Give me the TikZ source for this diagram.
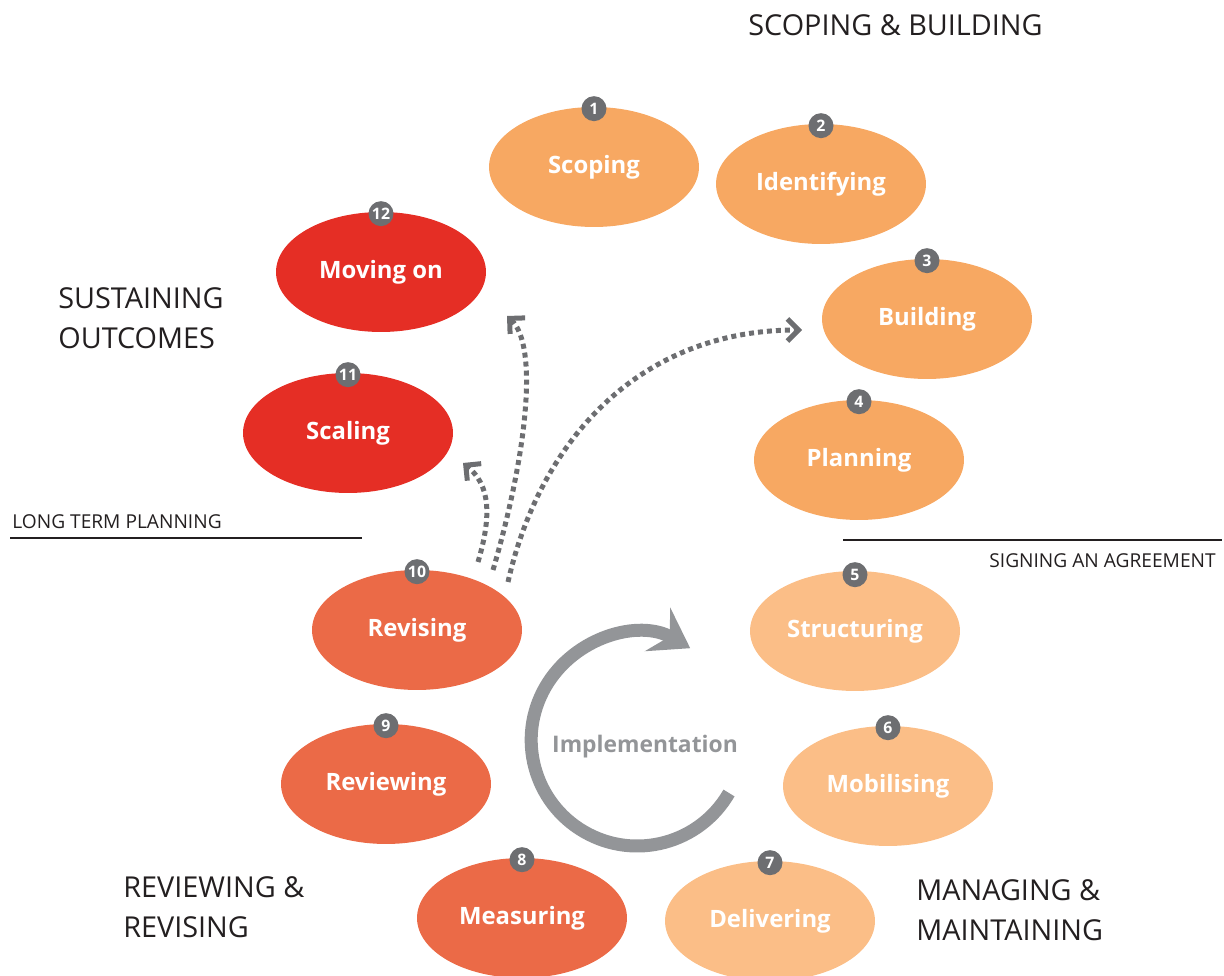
\documentclass[tikz,border=0pt]{standalone}
\usepackage{fontspec}
\setmainfont{Open Sans}
\usetikzlibrary{shapes.geometric, arrows.meta, positioning}
\definecolor{scopeorange}{HTML}{F7A862}
\definecolor{manageorange}{HTML}{FBBE87}
\definecolor{reviewred}{HTML}{EB6A47}
\definecolor{sustainred}{HTML}{E52E25}
\definecolor{badgegrey}{HTML}{6D6E71}
\definecolor{loopgrey}{HTML}{939598}
\definecolor{inkgrey}{HTML}{231F20}
\tikzset{
	x=0.02cm, y=-0.02cm,
	stage/.style={ellipse, minimum width=4.2cm, minimum height=2.4cm, inner sep=0pt,
		text=white, font=\fontsize{13.6}{16}\selectfont\bfseries},
	badge/.style={circle, fill=badgegrey, text=white, minimum size=0.5cm, inner sep=0pt,
		font=\fontsize{9}{10}\selectfont\bfseries},
	phase/.style={align=left, anchor=north west, inner sep=0pt, text=inkgrey,
		font=\fontsize{16.4}{22.7}\selectfont},
	milestone/.style={inner sep=0pt, text=inkgrey, font=\fontsize{10.9}{12}\selectfont},
	jump/.style={draw=badgegrey, line width=0.1cm, dash pattern=on 0.1cm off 0.08cm,
		-{Straight Barb[length=0.22cm, width=0.44cm]}},
	cycle/.style={draw=loopgrey, line width=0.26cm,
		-{Stealth[length=0.75cm, width=1cm, inset=0.28cm]}}
}

\begin{document}
\begin{tikzpicture}
	\useasboundingbox (0,0) rectangle (1224,976);
	
	% stages
	\node[stage, fill=scopeorange] (s1) at (594,167) {Scoping};
	\node[stage, fill=scopeorange] (s2) at (821,184) {Identifying};
	\node[stage, fill=scopeorange] (s3) at (927,319) {Building};
	\node[stage, fill=scopeorange] (s4) at (859,460) {Planning};
	\node[stage, fill=manageorange] (s5) at (855,631) {Structuring};
	\node[stage, fill=manageorange] (s6) at (888,786) {Mobilising};
	\node[stage, fill=manageorange] (s7) at (770,921) {Delivering};
	\node[stage, fill=reviewred] (s8) at (522,918) {Measuring};
	\node[stage, fill=reviewred] (s9) at (386,784) {Reviewing};
	\node[stage, fill=reviewred] (s10) at (417,630) {Revising};
	\node[stage, fill=sustainred] (s11) at (348,433) {Scaling};
	\node[stage, fill=sustainred] (s12) at (381,272) {Moving on};
	
	% numbers
	\node[badge] (n1) at ([yshift=-0.04cm]s1.north) {1};
	\node[badge] (n2) at ([yshift=-0.04cm]s2.north) {2};
	\node[badge] (n3) at ([yshift=-0.04cm]s3.north) {3};
	\node[badge] (n4) at ([yshift=-0.04cm]s4.north) {4};
	\node[badge] (n5) at ([yshift=-0.08cm]s5.north) {5};
	\node[badge] (n6) at ([yshift=-0.04cm]s6.north) {6};
	\node[badge] (n7) at ([yshift=-0.04cm]s7.north) {7};
	\node[badge] (n8) at ([yshift=-0.04cm]s8.north) {8};
	\node[badge] (n9) at ([yshift=-0.04cm]s9.north) {9};
	\node[badge] (n10) at ([yshift=-0.04cm]s10.north) {10};
	\node[badge] (n11) at ([yshift=-0.04cm]s11.north) {11};
	\node[badge] (n12) at ([yshift=-0.04cm]s12.north) {12};
	
	% phases
	\node[phase] (scopebuild) at (748,14) {SCOPING \& BUILDING};
	\node[phase] (sustain) at (58,287) {SUSTAINING\\OUTCOMES};
	\node[phase] (reviewrevise) at (123,876) {REVIEWING \&\\REVISING};
	\node[phase] (managemaintain) at (916,879) {MANAGING \&\\MAINTAINING};
	
	% milestones
	\node[milestone, anchor=base west] (longterm) at (12,528) {LONG TERM PLANNING};
	\coordinate (lt1) at (10,538);
	\coordinate (lt2) at (362,538);
	\draw[inkgrey, line width=0.03cm] (lt1) -- (lt2);
	\node[milestone, anchor=base east] (signing) at (1216,567) {SIGNING AN AGREEMENT};
	\coordinate (sg1) at (843,540);
	\coordinate (sg2) at (1222,540);
	\draw[inkgrey, line width=0.03cm] (sg1) -- (sg2);
	
	% implementation loop
	\node[text=loopgrey, font=\fontsize{13}{15}\selectfont\bfseries] (impl) at (645,747) {Implementation};
	\coordinate (loopstart) at (729,793);
	\draw[cycle] (loopstart) arc[start angle=30, end angle=300, radius=106];
	
	% jumps out of revising
	\coordinate (ja) at (478,562);
	\coordinate (jb) at (493,570);
	\coordinate (jc) at (508,582);
	\coordinate (ta) at (463,463);
	\coordinate (tb) at (507,316);
	\coordinate (tc) at (802,330);
	\draw[jump] (ja) .. controls (492,515) and (490,485) .. (ta);
	\draw[jump] (jb) .. controls (528,450) and (538,345) .. (tb);
	\draw[jump] (jc) .. controls (540,440) and (640,330) .. (tc);
	
\end{tikzpicture}
\end{document}
